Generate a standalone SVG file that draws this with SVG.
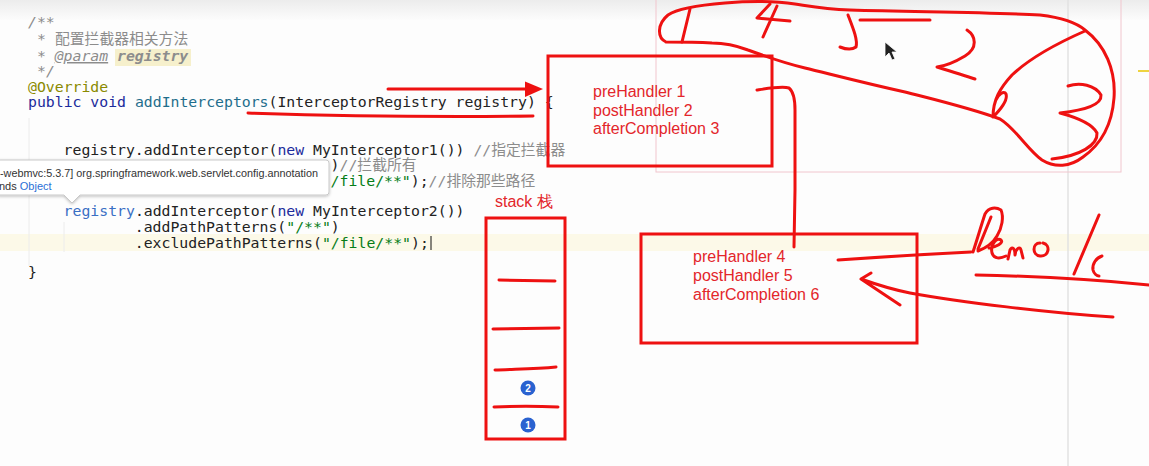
<svg xmlns="http://www.w3.org/2000/svg" width="1149" height="466" viewBox="0 0 1149 466">
<defs>
<linearGradient id="topfade" x1="0" y1="0" x2="0" y2="1"><stop offset="0" stop-color="#ececec"/><stop offset="1" stop-color="#fcfcfc"/></linearGradient>
<filter id="shadow" x="-5%" y="-30%" width="110%" height="180%"><feDropShadow dx="0" dy="1" stdDeviation="1.5" flood-color="#000" flood-opacity="0.25"/></filter>
</defs>
<style>
.code{font-family:"DejaVu Sans Mono","Noto Sans CJK SC",monospace;font-size:14.8px;fill:#222;white-space:pre}
.kw{fill:#1c2b9c}
.cm{fill:#8c8c8c;font-style:italic}
.cj{fill:#8c8c8c}
.st{fill:#067d17}
.fn{fill:#1f6e8c}
.an{fill:#8a8a00}
.pid{fill:#3a6fc4}
.pen{fill:none;stroke:#ee1111;stroke-width:3;stroke-linecap:round;stroke-linejoin:round}
.box{fill:none;stroke:#ee1111;stroke-width:3}
.lbl{font-family:"Liberation Sans",Arial,sans-serif;font-size:16px;fill:#e3262b}
.tip{font-family:"Liberation Sans",Arial,sans-serif;font-size:11px;fill:#333}
.badge{fill:#2a62d0}
.badgetxt{font-family:"Liberation Sans",Arial,sans-serif;font-size:10px;font-weight:bold;fill:#fff}
</style>

<!-- editor background -->
<rect x="0" y="0" width="1149" height="466" fill="#fdfdfd"/>
<rect x="0" y="0" width="1149" height="20" fill="url(#topfade)"/>
<rect x="0" y="234" width="1149" height="17" fill="#fcf9e8"/>
<line x1="1068" y1="0" x2="1068" y2="466" stroke="#e2e2e2" stroke-width="1.5"/>
<line x1="29" y1="118" x2="29" y2="266" stroke="#ececec" stroke-width="1"/>
<line x1="64" y1="222" x2="64" y2="252" stroke="#ececec" stroke-width="1"/>
<line x1="1138" y1="71" x2="1149" y2="71" stroke="#e8c400" stroke-width="1.5"/>
<rect x="656" y="-2" width="465" height="174" fill="none" stroke="#f1c6ce" stroke-width="1"/>

<!-- code -->
<g id="code">
<text class="code cm" x="28" y="27">/**</text>
<text class="code cm" x="37" y="44">*</text>
<text class="code cj" x="55" y="44">配置拦截器相关方法</text>
<rect x="115" y="49" width="76" height="17" fill="#f6f0cc"/>
<text class="code cm" x="37" y="61">*</text>
<text class="code cm" x="54.7" y="61" text-decoration="underline">@param</text>
<text class="code cm" x="117" y="61" font-weight="bold" fill="#55551a">registry</text>
<text class="code cm" x="37" y="76">*/</text>
<text class="code an" x="28" y="92">@Override</text>
<text class="code" x="28" y="107" xml:space="preserve"><tspan class="kw">public void </tspan><tspan class="fn">addInterceptors</tspan>(InterceptorRegistry registry) {</text>
<text class="code" x="63.6" y="155" xml:space="preserve">registry.addInterceptor(<tspan class="kw">new </tspan>MyInterceptor1()) <tspan class="cj">//指定拦截器</tspan></text>
<text class="code" x="330.6" y="170" xml:space="preserve">)<tspan class="cj">//拦截所有</tspan></text>
<text class="code" x="330.6" y="186" xml:space="preserve"><tspan class="st">/file/**"</tspan>);<tspan class="cj">//排除那些路径</tspan></text>
<text class="code" x="63.6" y="216" xml:space="preserve"><tspan class="pid">registry</tspan>.addInterceptor(<tspan class="kw">new </tspan>MyInterceptor2())</text>
<text class="code" x="134.8" y="232" xml:space="preserve">.addPathPatterns(<tspan class="st">"/**"</tspan>)</text>
<text class="code" x="134.8" y="248" xml:space="preserve">.excludePathPatterns(<tspan class="st">"/file/**"</tspan>);</text>
<line x1="431" y1="236" x2="431" y2="250" stroke="#111" stroke-width="1"/>
<text class="code" x="28" y="277">}</text>
</g>

<!-- tooltip -->
<g id="tooltip">
<path d="M-2,160 H326 Q329,160 329,163 V192 Q329,195 326,195 H80 L72,203 L64,195 H-2 Z" fill="#ffffff" stroke="#c9c9c9" stroke-width="1" filter="url(#shadow)"/>
<text class="tip" x="0" y="177" textLength="318" lengthAdjust="spacingAndGlyphs">-webmvc:5.3.7] org.springframework.web.servlet.config.annotation</text>
<text class="tip" x="-1" y="190">nds <tspan fill="#2a6fd6">Object</tspan></text>
</g>

<!-- hand-drawn bone sketch -->
<g id="sketch">
<path class="pen" d="M666,42 C657,38 657,24 668,15 C678,8 700,5 725,3 C750,1 775,1 795,4 C815,7 825,9 850,10 C920,12 990,12 1040,15 C1065,18 1078,24 1085,30 C1105,45 1116,70 1114,98 C1112,125 1100,145 1083,157 C1070,167 1055,168 1042,160 C1028,150 1015,128 1000,119 C970,108 940,101 905,92 C860,82 830,74 805,68 C780,62 765,56 748,50 C735,45 725,43 712,43 C695,42 680,42 666,42"/>
<path class="pen" d="M690,9 L682,42"/>
<path class="pen" d="M1085,31 C1060,42 1030,58 1012,75 C1000,88 993,100 993,117 C1000,110 1008,100 1006,94 C1004,90 998,95 996,100"/>
<path class="pen" d="M1068,86 C1080,82 1095,85 1101,95 C1102,105 1085,110 1060,113 C1075,117 1092,123 1097,133 C1098,145 1080,156 1052,159"/>
<path class="pen" d="M770,4 L757,18 L790,21 M777,6 L763,37"/>
<path class="pen" d="M848,15 C853,28 858,40 856,47 C852,50 845,49 840,47 M860,20 L930,20"/>
<path class="pen" d="M967,30 C976,36 978,48 965,56 C955,62 945,66 937,67 C950,71 963,75 975,79"/>
<path d="M885,42 L885,57 L889,53 L892,60 L895,59 L892,52 L897,52 Z" fill="#222" stroke="#fff" stroke-width="0.8"/>
</g>

<!-- Demo handwriting -->
<g id="handwriting">
<path class="pen" d="M973,252 C977,240 981,226 985,214 C989,207 996,207 1001,210 C1004,217 1002,228 997,236 C993,243 986,248 978,251"/>
<path class="pen" d="M978,249 L991,217"/>
<path class="pen" d="M989,248 C996,247 1004,243 1001,240 C997,237 990,244 992,253 C994,259 1000,259 1006,256"/>
<path class="pen" d="M1008,259 L1010,250 C1012,246 1015,248 1015,255 C1016,248 1020,246 1021,250 L1023,258"/>
<path class="pen" d="M1040,243 C1032,243 1032,255 1040,256 C1049,257 1051,245 1043,243"/>
<path class="pen" d="M1099,215 L1074,274"/>
<path class="pen" d="M1102,256 C1096,258 1092,264 1093,270 C1094,274 1097,276 1099,276"/>
<path class="pen" d="M976,275 C1030,276 1090,279 1149,285"/>
</g>

<!-- nodes -->
<g id="box1">
<rect class="box" x="548" y="56" width="224" height="110"/>
<text class="lbl" x="593" y="97">preHandler 1</text>
<text class="lbl" x="593" y="116">postHandler 2</text>
<text class="lbl" x="593" y="134">afterCompletion 3</text>
</g>

<g id="box2">
<rect class="box" x="641" y="234" width="276" height="109"/>
<text class="lbl" x="693" y="262">preHandler 4</text>
<text class="lbl" x="693" y="281">postHandler 5</text>
<text class="lbl" x="693" y="300">afterCompletion 6</text>
</g>

<g id="stack">
<text class="lbl" x="495" y="207" font-size="15">stack 栈</text>
<rect class="box" x="486" y="218" width="79" height="221"/>
<path class="pen" d="M499,280 L555,281"/>
<path class="pen" d="M493,329 L559,328"/>
<path class="pen" d="M495,370 C515,369 535,369 556,367"/>
<path class="pen" d="M494,407 C515,406 537,406 558,407"/>
<circle class="badge" cx="528" cy="388" r="7.5"/>
<text class="badgetxt" x="528" y="391.5" text-anchor="middle">2</text>
<circle class="badge" cx="528" cy="425" r="7.5"/>
<text class="badgetxt" x="528" y="428.5" text-anchor="middle">1</text>
</g>

<!-- connectors -->
<g id="connectors">
<path class="pen" d="M248,113 C340,116 440,117 533,116"/>
<path class="pen" d="M388,89 L528,89"/>
<polygon points="525,81.5 543,89 525,97" fill="#ee1111"/>
<path class="pen" d="M757,90 C770,88 782,86 789,88 C794,92 795,100 795,110 L795,190 L794,247"/>
<path class="pen" d="M838,260 C880,257 930,254 971,252"/>
<path class="pen" d="M1113,317 C1050,313 960,302 910,293 C890,289 875,284 861,279 M871,273 L861,279 L900,305"/>
</g>
</svg>
